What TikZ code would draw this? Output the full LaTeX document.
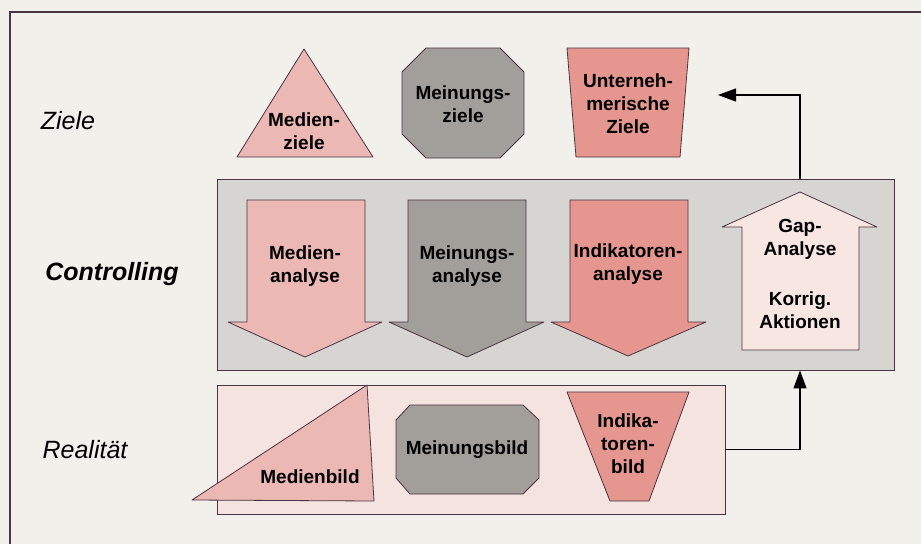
\documentclass[tikz,border=0pt]{standalone}
\usepackage{fontspec}
\setmainfont{Liberation Sans}
\usetikzlibrary{arrows.meta}
\definecolor{paper}{HTML}{F2F0EB}
\definecolor{outline}{HTML}{4A3342}
\definecolor{ctrlgray}{HTML}{D7D5D1}
\definecolor{realpink}{HTML}{F5E3E0}
\definecolor{medpink}{HTML}{ECB8B3}
\definecolor{meingray}{HTML}{A29F9A}
\definecolor{indsalmon}{HTML}{E5978F}
\definecolor{gappink}{HTML}{F8E6E3}

\begin{document}
\begin{tikzpicture}[x=1pt,y=-1pt,
  form/.style={draw=outline, line width=0.8pt, line join=round},
  ebenebox/.style={draw=outline, line width=0.9pt, inner sep=0pt},
  lbl/.style={align=center, inner sep=0pt, font=\fontsize{19}{23}\selectfont\bfseries},
  ebene/.style={inner sep=0pt, font=\fontsize{25}{30}\selectfont\itshape},
  flow/.style={line width=1.2pt, -{Triangle[length=18pt,width=13pt]}}]
\useasboundingbox (0,0) rectangle (921,544);
\fill[paper] (0,0) rectangle (921,544);
\draw[outline, line width=1.2pt] (921,12) -- (10,12) -- (10,544);

\node[ebenebox, fill=ctrlgray, minimum width=677pt, minimum height=191pt] (ctrlbox) at (555.5,274.5) {};
\node[ebenebox, fill=realpink, minimum width=508pt, minimum height=129pt] (realbox) at (471,449.5) {};

\draw[form, fill=medpink] (237,157) -- (304,49) -- (373,157) -- cycle;
\draw[form, fill=meingray] (426,48) -- (500,48) -- (524,72) -- (524,134) -- (500,158) -- (426,158) -- (402,134) -- (402,72) -- cycle;
\draw[form, fill=indsalmon] (567,48) -- (689,48) -- (680,157) -- (576,157) -- cycle;

\draw[form, fill=medpink] (247,200) -- (365,200) -- (365,322) -- (382,322) -- (305,357) -- (228,322) -- (247,322) -- cycle;
\draw[form, fill=meingray] (408,200) -- (526,200) -- (526,322) -- (544,322) -- (467,357) -- (389,322) -- (408,322) -- cycle;
\draw[form, fill=indsalmon] (570,200) -- (688,200) -- (688,322) -- (706,322) -- (628,356) -- (551,322) -- (570,322) -- cycle;
\draw[form, fill=gappink] (742,350) -- (742,227) -- (722,227) -- (800,192) -- (877,227) -- (859,227) -- (859,350) -- cycle;

\draw[form, fill=medpink] (192,500) -- (367,385) -- (374,501) -- cycle;
\draw[form, fill=meingray] (410,405) -- (523,405) -- (539,420) -- (539,478) -- (523,494) -- (410,494) -- (396,478) -- (396,420) -- cycle;
\draw[form, fill=indsalmon] (567,392) -- (689,392) -- (649,501) -- (610,501) -- cycle;

\node[ebene] (ziele) at (68,121) {Ziele};
\node[ebene, font=\fontsize{25}{30}\selectfont\bfseries\itshape] (controlling) at (112,274) {Controlling};
\node[ebene] (realitaet) at (85,450) {Realität};

\node[lbl] (medziele) at (304,131) {Medien-\\ziele};
\node[lbl] (meinziele) at (463,104) {Meinungs-\\ziele};
\node[lbl] (unziele) at (628,104) {Unterneh-\\merische\\Ziele};
\node[lbl] (medanalyse) at (305,266) {Medien-\\analyse};
\node[lbl] (meinanalyse) at (467,266) {Meinungs-\\analyse};
\node[lbl] (indanalyse) at (628,264) {Indikatoren-\\analyse};
\node[lbl] (gaptext) at (800,239) {Gap-\\Analyse};
\node[lbl] (korrtext) at (800,310) {Korrig.\\Aktionen};
\node[lbl] (medbild) at (310,477) {Medienbild};
\node[lbl] (meinbild) at (467,450) {Meinungsbild};
\node[lbl] (indbild) at (628,444) {Indika-\\toren-\\bild};

\coordinate (zielspitze) at (718,95);
\draw[flow] (realbox.east) -| (ctrlbox.south -| gaptext);
\draw[flow] (ctrlbox.north -| gaptext) |- (zielspitze);
\end{tikzpicture}
\end{document}
